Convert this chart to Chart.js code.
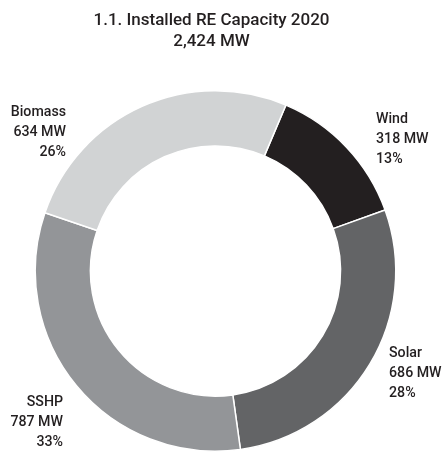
<!DOCTYPE html>
<html>
<head>
<meta charset="utf-8">
<script src="https://cdn.jsdelivr.net/npm/chart.js@4.4.1/dist/chart.umd.min.js"></script>
<style>
  html, body { margin: 0; padding: 0; background: #fff; }
  #wrap { position: relative; width: 443px; height: 454px; }
</style>
</head>
<body>
<div id="wrap"><canvas id="reChart"></canvas></div>
<script>
/* ====== DATA ====== */
const titleLines = ['1.1. Installed RE Capacity 2020', '2,424 MW'];
const sources = ['Wind', 'Solar', 'SSHP', 'Biomass'];
const capacityMW = [318, 686, 787, 634];
const shareLabels = ['13%', '28%', '33%', '26%'];
const sliceColors = ['#231f20', '#636466', '#939598', '#d1d3d4'];

// where each label block sits: x anchor, first baseline, text alignment
const labelPlacement = [
    { x: 376, y: 123, align: 'left' },
    { x: 389, y: 357, align: 'left' },
    { x: 63, y: 406, align: 'right' },
    { x: 66, y: 116, align: 'right' }
];

const FONT = 'Roboto, "Liberation Sans", sans-serif';
const TEXT_COLOR = '#231f20';

/* ====== TEXT PLUGIN ====== */
const textPlugin = {
    id: 'reText',
    afterDraw(chart) {
        const c = chart.ctx;
        c.save();
        c.fillStyle = TEXT_COLOR;
        c.textBaseline = 'alphabetic';

        // title block
        c.textAlign = 'center';
        c.font = '500 17px ' + FONT;
        c.fillText(titleLines[0], 211.5, 25);
        c.fillText(titleLines[1], 211.5, 46);

        // slice labels (name / MW / share)
        c.font = '500 14.2px ' + FONT;
        sources.forEach((name, i) => {
            const p = labelPlacement[i];
            c.textAlign = p.align;
            const lines = [name, capacityMW[i] + ' MW', shareLabels[i]];
            lines.forEach((txt, k) => {
                c.fillText(txt, p.x, p.y + k * 20);
            });
        });
        c.restore();
    }
};

/* ====== CHART ====== */
const ctx = document.getElementById('reChart').getContext('2d');
new Chart(ctx, {
    type: 'doughnut',
    data: {
        labels: sources,
        datasets: [{
            data: capacityMW,
            backgroundColor: sliceColors,
            borderColor: '#ffffff',
            borderWidth: 1.5
        }]
    },
    options: {
        responsive: true,
        maintainAspectRatio: false,
        animation: false,
        rotation: 23,
        cutout: '69.4%',
        layout: { padding: { top: 90, bottom: 2, left: 0, right: 12 } },
        plugins: {
            legend: { display: false },
            tooltip: { enabled: false },
            title: { display: false }
        }
    },
    plugins: [textPlugin]
});
</script>
</body>
</html>
